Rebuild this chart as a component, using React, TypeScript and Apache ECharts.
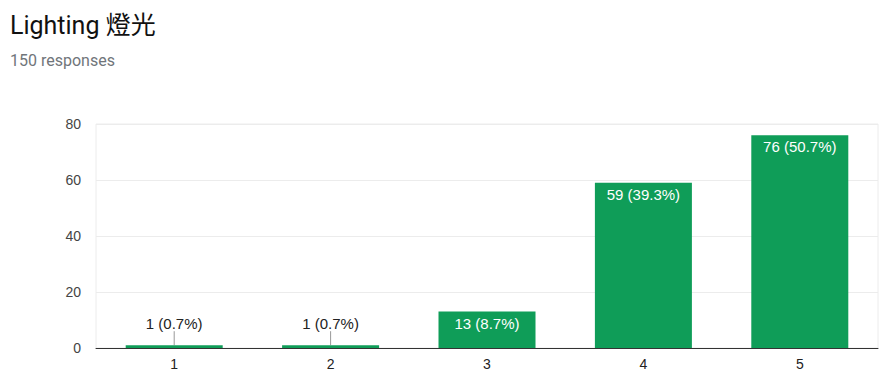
import React, { useEffect, useRef } from "react";
import * as echarts from "echarts";

const categories = ["1", "2", "3", "4", "5"];
const counts = [1, 1, 13, 59, 76];
const percents = [0.7, 0.7, 8.7, 39.3, 50.7];
const yTicks = [0, 20, 40, 60, 80];
const outsideThreshold = 5;

export default function App() {
  const ref = useRef<HTMLDivElement>(null);
  useEffect(() => {
    document.body.style.margin = "0";
    const chart = echarts.init(ref.current!, null, { renderer: "svg" });
    const labelText = (i: number) => `${counts[i]} (${percents[i]}%)`;
    const font = "'Liberation Sans', Arial, sans-serif";
    chart.setOption({
      animation: false,
      title: [
        {
          text: "Lighting 燈光",
          left: 10,
          top: 13,
          padding: 0,
          textStyle: {
            fontFamily: "Roboto, 'Noto Sans CJK TC', sans-serif",
            fontSize: 25,
            fontWeight: 400,
            color: "#111",
          },
        },
        {
          text: "150 responses",
          left: 10,
          top: 52,
          padding: 0,
          textStyle: {
            fontFamily: "Roboto, sans-serif",
            fontSize: 16,
            fontWeight: 400,
            color: "#70757a",
          },
        },
      ],
      grid: {
        left: 96,
        right: 16,
        top: 124,
        bottom: 37,
        show: true,
        borderColor: "#ececec",
        borderWidth: 1,
      },
      xAxis: {
        type: "category",
        data: categories,
        axisLine: { lineStyle: { color: "#333", width: 1 } },
        axisTick: { show: false },
        axisLabel: {
          color: "#222",
          fontSize: 14,
          fontFamily: font,
          margin: 9,
        },
      },
      yAxis: {
        type: "value",
        min: yTicks[0],
        max: yTicks[yTicks.length - 1],
        interval: 20,
        axisLine: { show: false },
        axisTick: { show: false },
        splitLine: { lineStyle: { color: "#ececec" } },
        axisLabel: {
          color: "#444",
          fontSize: 14,
          fontFamily: font,
          margin: 15,
        },
      },
      series: [
        {
          type: "bar",
          barWidth: 97,
          data: counts.map((v, i) => ({
            value: v,
            label:
              v < outsideThreshold
                ? {
                    show: true,
                    position: "top",
                    distance: 14.5,
                    color: "#222",
                    formatter: () => labelText(i),
                  }
                : {
                    show: true,
                    position: "insideTop",
                    distance: 4,
                    color: "#fff",
                    formatter: () => labelText(i),
                  },
          })),
          itemStyle: { color: "#0f9d58" },
          label: {
            fontSize: 15,
            fontFamily: font,
          },
        },
        {
          type: "custom",
          silent: true,
          z: 1,
          data: counts
            .map((v, i) => [i, v])
            .filter((d) => d[1] < outsideThreshold),
          renderItem: (params: any, api: any) => {
            const p = api.coord([api.value(0), api.value(1)]);
            return {
              type: "line",
              shape: { x1: p[0], y1: p[1], x2: p[0], y2: p[1] - 14 },
              style: { stroke: "#999", lineWidth: 1 },
            };
          },
        },
      ],
    });
    return () => chart.dispose();
  }, []);
  return <div ref={ref} style={{ width: 894, height: 385 }} />;
}
